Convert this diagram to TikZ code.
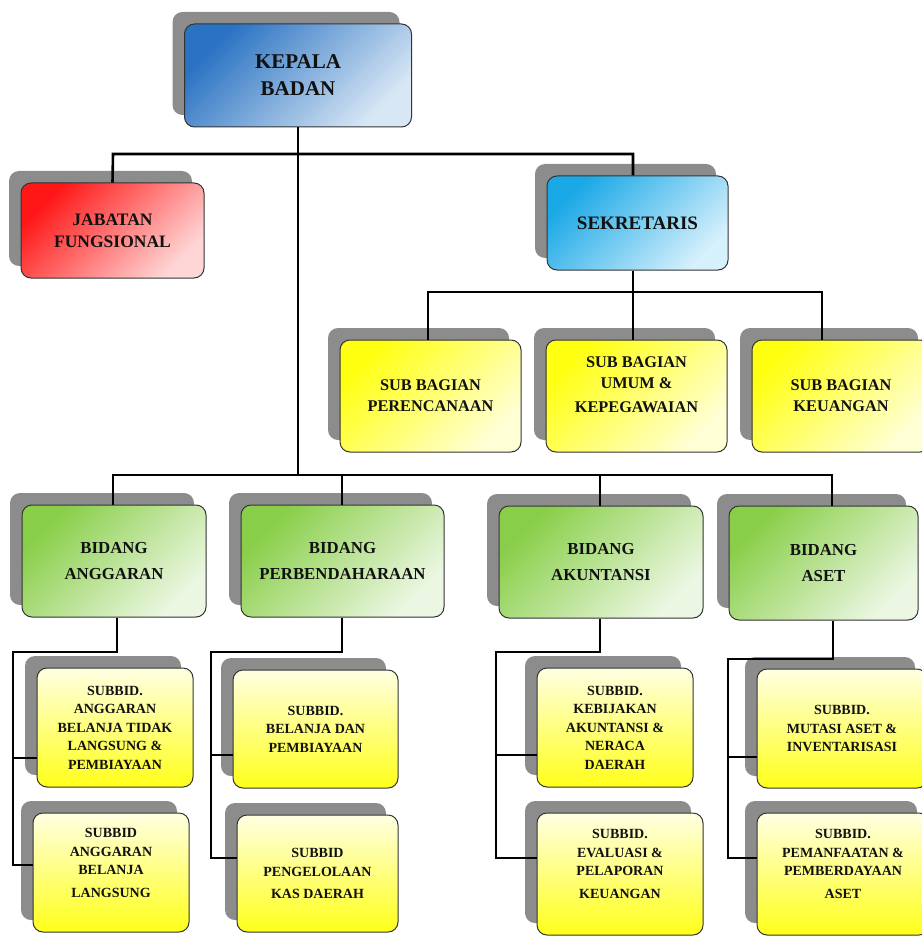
\documentclass[tikz,border=0pt]{standalone}
\usepackage{fontspec}
\setmainfont{Liberation Serif}
\usetikzlibrary{shadows}
\definecolor{blueD}{HTML}{2A72C2}
\definecolor{blueL}{HTML}{D8E7F5}
\definecolor{redD}{HTML}{FF1616}
\definecolor{redL}{HTML}{FFD6D6}
\definecolor{cyanD}{HTML}{1AA8E6}
\definecolor{cyanL}{HTML}{D6F0FC}
\definecolor{yelD}{HTML}{FFFF10}
\definecolor{yelL}{HTML}{FFFFD6}
\definecolor{greenD}{HTML}{88CE48}
\definecolor{greenL}{HTML}{ECF7E3}
\definecolor{subT}{HTML}{FFFFE2}
\definecolor{subB}{HTML}{FFFF1A}
\definecolor{shadowc}{HTML}{8C8C8C}
\definecolor{txt}{HTML}{111111}
\begin{document}
\begin{tikzpicture}[x=1pt,y=-1pt,
  box/.style={draw=black!80, line width=1pt, rounded corners=10pt, align=center,
    text=txt, inner sep=2pt,
    drop shadow={shadow xshift=-12pt, shadow yshift=12pt, fill=shadowc, opacity=1}},
  sz/.style 2 args={minimum width=#1pt, minimum height=#2pt},
  fs/.style 2 args={font=\fontsize{#1}{#2}\selectfont\bfseries},
  bluebox/.style={top color=blueD, bottom color=blueL, shading angle=45},
  redbox/.style={top color=redD, bottom color=redL, shading angle=45},
  cyanbox/.style={top color=cyanD, bottom color=cyanL, shading angle=45},
  yelbox/.style={top color=yelD, bottom color=yelL, shading angle=45},
  greenbox/.style={top color=greenD, bottom color=greenL, shading angle=45},
  subbox/.style={top color=subT, bottom color=subB, fs={14}{18.5}},
  heavy/.style={draw=black, line width=2.6pt},
  light/.style={draw=black, line width=1.2pt}]
\useasboundingbox (0,0) rectangle (921,936);

% top level
\node[box,bluebox,sz={227}{103},fs={21}{27}] (kepala) at (298,75.5) {KEPALA\\BADAN};
\node[box,redbox,sz={183}{95},fs={17.5}{22}] (jab) at (112.5,230.5) {JABATAN\\FUNGSIONAL};
\node[box,cyanbox,sz={181}{94},fs={19}{24}] (sek) at (637.5,223) {SEKRETARIS};

% sub bagian
\node[box,yelbox,sz={181}{112},fs={16.3}{21}] (per) at (430.5,396) {SUB BAGIAN\\PERENCANAAN};
\node[box,yelbox,sz={181}{112},fs={16.3}{21}] (umum) at (636.5,396) {SUB BAGIAN\\UMUM \&\\[3pt]KEPEGAWAIAN\\[1pt]\mbox{}};
\node[box,yelbox,sz={178}{112},fs={16.3}{21}] (keu) at (841,396) {SUB BAGIAN\\KEUANGAN};

% bidang
\node[box,greenbox,sz={184}{112},fs={16.8}{26}] (ang) at (114,561) {BIDANG\\ANGGARAN};
\node[box,greenbox,sz={203}{112},fs={16.8}{26}] (pbd) at (342.5,561) {BIDANG\\PERBENDAHARAAN};
\node[box,greenbox,sz={204}{112},fs={16.8}{26}] (akt) at (601,562) {BIDANG\\AKUNTANSI};
\node[box,greenbox,sz={189}{114},fs={16.8}{26}] (ast) at (823.5,563) {BIDANG\\ASET};

% subbid
\node[box,subbox,sz={156}{119}] (sa1) at (115,727.5) {SUBBID.\\ANGGARAN\\BELANJA TIDAK\\LANGSUNG \&\\PEMBIAYAAN};
\node[box,subbox,sz={156}{119}] (sa2) at (111,872.5) {SUBBID\\ANGGARAN\\BELANJA\\[4pt]LANGSUNG\\[1pt]\mbox{}};
\node[box,subbox,sz={165}{118}] (sp1) at (315.5,729) {SUBBID.\\BELANJA DAN\\PEMBIAYAAN};
\node[box,subbox,sz={161}{117}] (sp2) at (317.5,873.5) {SUBBID\\PENGELOLAAN\\[4pt]KAS DAERAH};
\node[box,subbox,sz={156}{119}] (sk1) at (615,727.5) {SUBBID.\\KEBIJAKAN\\AKUNTANSI \&\\NERACA\\DAERAH};
\node[box,subbox,sz={166}{122}] (sk2) at (620,874) {SUBBID.\\EVALUASI \&\\PELAPORAN\\[4pt]KEUANGAN\\[2pt]\mbox{}};
\node[box,subbox,sz={170}{119}] (st1) at (842,728.5) {SUBBID.\\MUTASI ASET \&\\INVENTARISASI};
\node[box,subbox,sz={172}{122}] (st2) at (843,874) {SUBBID.\\PEMANFAATAN \&\\PEMBERDAYAAN\\[4pt]ASET\\[2pt]\mbox{}};

% coordinates
\coordinate (t1) at (113,154);
\coordinate (t2) at (633,154);
\coordinate (s1) at (428,292);
\coordinate (s2) at (633,292);
\coordinate (s3) at (822,292);
\coordinate (m0) at (298,475);
\coordinate (b1) at (113,475);
\coordinate (b2) at (342,475);
\coordinate (b3) at (600,475);
\coordinate (b4) at (832,475);

% heavy connectors
\draw[heavy] (kepala.south) -- (m0);
\draw[heavy] (jab.north) -- (t1) -- (t2) -- (t2 |- sek.north);
\draw[heavy] (s2 |- sek.south) -- (s2);
\draw[heavy] (s1 |- per.north) -- (s1) -- (s3) -- (s3 |- keu.north);
\draw[heavy] (s2) -- (s2 |- umum.north);
\draw[heavy] (b1 |- ang.north) -- (b1) -- (b4) -- (b4 |- ast.north);
\draw[heavy] (b2) -- (b2 |- pbd.north);
\draw[heavy] (b3) -- (b3 |- akt.north);

% subbid connectors
\coordinate (ax) at (117,652); \coordinate (al) at (13,652);
\coordinate (al1) at (13,758); \coordinate (al2) at (13,865);
\draw[light] (ax |- ang.south) -- (ax) -- (al) -- (al2) -- (al2 -| sa2.west);
\draw[light] (al1) -- (al1 -| sa1.west);

\coordinate (px) at (342,652); \coordinate (pl) at (211,652);
\coordinate (pl1) at (211,755); \coordinate (pl2) at (211,858);
\draw[light] (px |- pbd.south) -- (px) -- (pl) -- (pl2) -- (pl2 -| sp2.west);
\draw[light] (pl1) -- (pl1 -| sp1.west);

\coordinate (kx) at (600,652); \coordinate (kl) at (496,652);
\coordinate (kl1) at (496,755); \coordinate (kl2) at (496,858);
\draw[light] (kx |- akt.south) -- (kx) -- (kl) -- (kl2) -- (kl2 -| sk2.west);
\draw[light] (kl1) -- (kl1 -| sk1.west);

\coordinate (tx) at (833,659); \coordinate (tl) at (728,659);
\coordinate (tl1) at (728,757); \coordinate (tl2) at (728,858);
\draw[light] (tx |- ast.south) -- (tx) -- (tl) -- (tl2) -- (tl2 -| st2.west);
\draw[light] (tl1) -- (tl1 -| st1.west);
\end{tikzpicture}
\end{document}
